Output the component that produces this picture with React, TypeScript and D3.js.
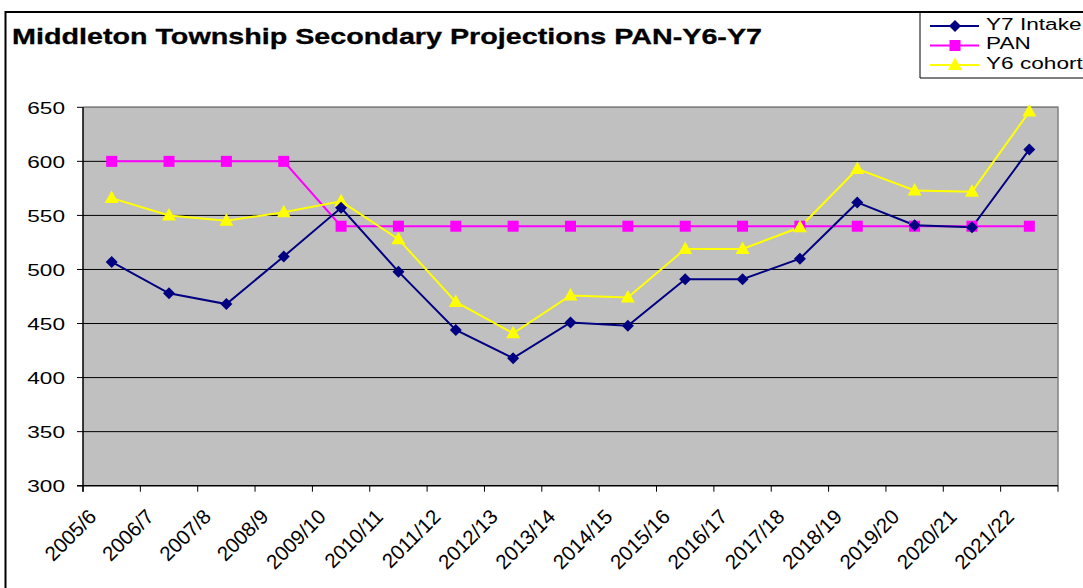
import React from "react";
import * as d3 from "d3";

const categories = ["2005/6","2006/7","2007/8","2008/9","2009/10","2010/11","2011/12","2012/13","2013/14","2014/15","2015/16","2016/17","2017/18","2018/19","2019/20","2020/21","2021/22"];
const y7Intake = [507,478,468,512,557,498,444,418,451,448,491,491,510,562,541,539,611];
const pan = [600,600,600,600,540,540,540,540,540,540,540,540,540,540,540,540,540];
const y6Cohort = [566,550,545,553,563,528,470,441,476,474,519,519,539,593,573,572,646];
const yTicks = [300,350,400,450,500,550,600,650];

const W = 1083, H = 588;
const X0 = 83, X1 = 1058, YT = 107.3, YB = 485.7;
const FONT = "Arial, 'Liberation Sans', sans-serif";
const SX = 1.33;

export default function App() {
  const x = d3.scaleBand<string>().domain(categories).range([X0, X1]).padding(0);
  const y = d3.scaleLinear().domain([300, 650]).range([YB, YT]);
  const cx = (c: string) => (x(c) as number) + x.bandwidth() / 2;
  const line = d3.line<number>().x((_, i) => cx(categories[i])).y((v) => y(v));

  const diamond = (px: number, py: number, key: string) => (
    <path key={key} d={`M${px},${py - 6}L${px + 6},${py}L${px},${py + 6}L${px - 6},${py}Z`} fill="#000080" />
  );
  const square = (px: number, py: number, key: string) => (
    <rect key={key} x={px - 5.5} y={py - 5.5} width={11} height={11} fill="#FF00FF" />
  );
  const tri = (px: number, py: number, key: string) => (
    <path key={key} d={`M${px},${py - 7.5}L${px + 7},${py + 5}L${px - 7},${py + 5}Z`} fill="#FFFF00" />
  );

  const boundaries = categories.map((c) => x(c) as number).concat([X1]);

  return (
    <svg width={W} height={H} style={{ position: "absolute", left: 0, top: 0, background: "#fff" }} fontFamily={FONT}>
      {/* outer chart frame */}
      <path d={`M1090,12H5.5V600`} fill="none" stroke="#000" strokeWidth={2} />
      {/* title */}
      <text x={12} y={43.5} fontSize={22} fontWeight="bold" fill="#000" stroke="#000" strokeWidth={0.3} textLength={750} lengthAdjust="spacingAndGlyphs">
        Middleton Township Secondary Projections PAN-Y6-Y7
      </text>
      {/* plot area */}
      <rect x={X0} y={YT} width={X1 - X0} height={YB - YT} fill="#C0C0C0" />
      {yTicks.filter((t) => t !== 300).map((t) => (
        <line key={"g" + t} x1={X0} x2={X1} y1={y(t)} y2={y(t)} stroke="#000" strokeWidth={1} />
      ))}
      <path d={`M${X0},${YT}H${X1}V${YB}`} fill="none" stroke="#808080" strokeWidth={1.5} />
      <line x1={X0} x2={X0} y1={YT} y2={YB + 6} stroke="#000" strokeWidth={1.5} />
      <line x1={X0 - 6} x2={X1} y1={YB} y2={YB} stroke="#000" strokeWidth={1.5} />
      {yTicks.map((t) => (
        <g key={"yt" + t}>
          <line x1={X0 - 6} x2={X0} y1={y(t)} y2={y(t)} stroke="#000" strokeWidth={1} />
          <text transform={`translate(65,${y(t) + 6.2}) scale(${SX},1)`} textAnchor="end" fontSize={17} fill="#000">{t}</text>
        </g>
      ))}
      {boundaries.map((b, i) => (
        <line key={"xt" + i} x1={b} x2={b} y1={YB} y2={YB + 6} stroke="#000" strokeWidth={1} />
      ))}
      {categories.map((c) => (
        <text key={"xl" + c} transform={`translate(${cx(c) - 14},${518}) rotate(-45)`} textAnchor="end" fontSize={20.5} fill="#000">{c}</text>
      ))}
      {/* series */}
      <path d={line(pan) as string} fill="none" stroke="#FF00FF" strokeWidth={2} />
      <path d={line(y6Cohort) as string} fill="none" stroke="#FFFF00" strokeWidth={2} />
      <path d={line(y7Intake) as string} fill="none" stroke="#000080" strokeWidth={2} />
      {pan.map((v, i) => square(cx(categories[i]), y(v), "p" + i))}
      {y6Cohort.map((v, i) => tri(cx(categories[i]), y(v), "t" + i))}
      {y7Intake.map((v, i) => diamond(cx(categories[i]), y(v), "d" + i))}
      {/* legend */}
      <path d={`M1090,78H920V12`} fill="none" stroke="#000" strokeWidth={1} />
      {[
        { name: "Y7 Intake", color: "#000080", m: diamond },
        { name: "PAN", color: "#FF00FF", m: square },
        { name: "Y6 cohort", color: "#FFFF00", m: tri },
      ].map((s, i) => {
        const ly = 26 + i * 19.5;
        return (
          <g key={"lg" + i}>
            <line x1={930} x2={979} y1={ly} y2={ly} stroke={s.color} strokeWidth={2} />
            {s.m(955, ly, "lm" + i)}
            <text transform={`translate(986,${ly + 3.5}) scale(${SX},1)`} fontSize={17} fill="#000">{s.name}</text>
          </g>
        );
      })}
    </svg>
  );
}
